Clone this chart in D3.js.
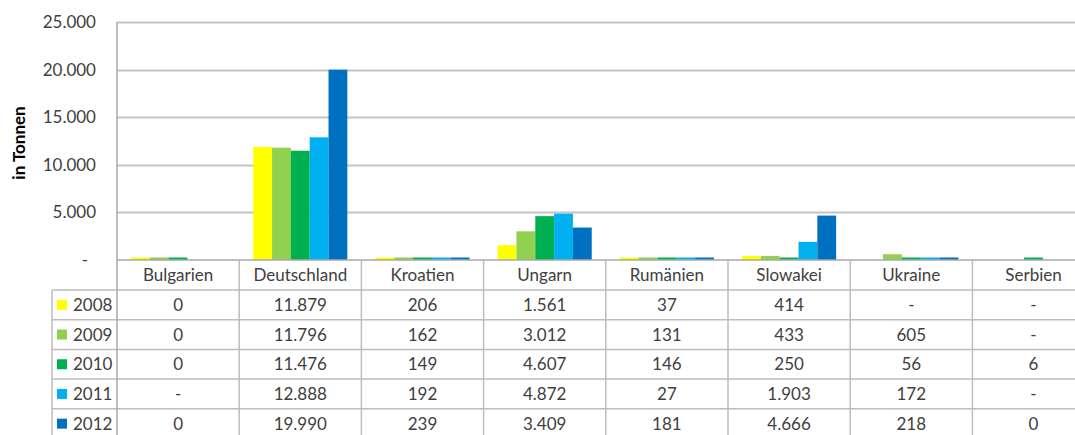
<!DOCTYPE html>
<html>
<head>
<meta charset="utf-8">
<script src="https://cdn.jsdelivr.net/npm/d3@7"></script>
<style>
  body { margin: 0; background: #fff; }
  text { font-family: Lato, "Open Sans", sans-serif; fill: #404040; }
</style>
</head>
<body>
<div class="chart"></div>
<script>
const categories = ['Bulgarien', 'Deutschland', 'Kroatien', 'Ungarn', 'Rumänien', 'Slowakei', 'Ukraine', 'Serbien'];
const years = ['2008', '2009', '2010', '2011', '2012'];
const colors = ['#ffff00', '#92d050', '#00b050', '#00b0f0', '#0070c0'];
// null = "-" in the table
const v2008 = [0.4, 11879, 206, 1561, 37, 414, null, null];
const v2009 = [0.4, 11796, 162, 3012, 131, 433, 605, null];
const v2010 = [0.4, 11476, 149, 4607, 146, 250, 56, 6];
const v2011 = [null, 12888, 192, 4872, 27, 1903, 172, null];
const v2012 = [0, 19990, 239, 3409, 181, 4666, 218, 0];
const yTicks = [0, 5000, 10000, 15000, 20000, 25000];

const series = [v2008, v2009, v2010, v2011, v2012];

const svg = d3.select('.chart').append('svg'),
  W = 1075, H = 435,
  margin = { top: 22, left: 117 },
  plotH = 260 - margin.top,
  rowH = 29.7,
  fs = '17px';

svg.attr('width', W).attr('height', H);

const de = d3.formatLocale({ decimal: ',', thousands: '.', grouping: [3], currency: ['', ' €'] });
const fmt = function(v) {
  if (v === null) return '-';
  return de.format(',.0f')(Math.round(v));
};

const x0 = d3.scaleBand().domain(categories).range([margin.left, margin.left + 8 * 122.2]);
const gap = x0.bandwidth() * 0.115;
const x1 = d3.scaleBand().domain(years).range([gap, x0.bandwidth() - gap]);
const y = d3.scaleLinear().domain([0, 25000]).range([margin.top + plotH, margin.top]);

// gridlines
svg.append('g').selectAll('line')
  .data(yTicks.slice(1))
  .enter().append('line')
  .attr('x1', margin.left).attr('x2', W)
  .attr('y1', d => Math.round(y(d)) + 0.5).attr('y2', d => Math.round(y(d)) + 0.5)
  .attr('stroke', '#c4c4c4').attr('stroke-width', 2);

// y tick labels
svg.append('g').selectAll('text')
  .data(yTicks)
  .enter().append('text')
  .attr('x', d => d === 0 ? 88 : 96)
  .attr('y', d => y(d) + 6)
  .attr('text-anchor', 'end')
  .style('font-size', fs)
  .text(d => d === 0 ? '-' : fmt(d));

svg.append('text')
  .attr('transform', 'translate(25,' + (margin.top + plotH / 2 + 2) + ') rotate(-90)')
  .attr('text-anchor', 'middle')
  .style('font-size', '17px').style('font-weight', 'bold').style('fill', '#000')
  .text('in Tonnen');

// bars
const groups = svg.append('g').selectAll('g')
  .data(categories)
  .enter().append('g')
  .attr('transform', d => 'translate(' + x0(d) + ',0)');

groups.selectAll('rect')
  .data((c, i) => years.map((yr, k) => ({ year: yr, k: k, v: series[k][i] })))
  .enter().append('rect')
  .attr('x', d => x1(d.year))
  .attr('width', x1.bandwidth())
  .attr('y', d => {
    const h = d.v > 0 ? Math.max(2.5, y(0) - y(d.v)) : 0;
    return y(0) - h;
  })
  .attr('height', d => d.v > 0 ? Math.max(2.5, y(0) - y(d.v)) : 0)
  .attr('fill', d => colors[d.k]);

// data table
const tableTop = y(0);
const gridColor = '#bdbdbd';
const t = svg.append('g');

// horizontal lines
t.append('line')
  .attr('x1', margin.left).attr('x2', W)
  .attr('y1', tableTop).attr('y2', tableTop)
  .attr('stroke', '#a8a8a8').attr('stroke-width', 1.5);
t.selectAll('.hl')
  .data(d3.range(1, 6))
  .enter().append('line')
  .attr('class', 'hl')
  .attr('x1', 52).attr('x2', W)
  .attr('y1', i => tableTop + 30 + (i - 1) * rowH)
  .attr('y2', i => tableTop + 30 + (i - 1) * rowH)
  .attr('stroke', gridColor).attr('stroke-width', 1.5);

// vertical lines
t.selectAll('.vl')
  .data(categories)
  .enter().append('line')
  .attr('class', 'vl')
  .attr('x1', d => x0(d) + x0.bandwidth()).attr('x2', d => x0(d) + x0.bandwidth())
  .attr('y1', tableTop).attr('y2', H)
  .attr('stroke', gridColor).attr('stroke-width', 1.5);
t.append('line')
  .attr('x1', margin.left).attr('x2', margin.left)
  .attr('y1', margin.top).attr('y2', H)
  .attr('stroke', '#a8a8a8').attr('stroke-width', 1.5);
t.append('line')
  .attr('x1', 52).attr('x2', 52)
  .attr('y1', tableTop + 30).attr('y2', H)
  .attr('stroke', gridColor).attr('stroke-width', 1.5);

// header labels
t.selectAll('.hd')
  .data(categories)
  .enter().append('text')
  .attr('class', 'hd')
  .attr('x', d => x0(d) + x0.bandwidth() / 2)
  .attr('y', tableTop + 21)
  .attr('text-anchor', 'middle')
  .style('font-size', fs)
  .text(d => d);

// rows
const rows = t.selectAll('.row')
  .data(years)
  .enter().append('g')
  .attr('class', 'row')
  .attr('transform', (d, k) => 'translate(0,' + (tableTop + 30 + k * rowH) + ')');

rows.append('rect')
  .attr('x', 57).attr('y', rowH / 2 - 5)
  .attr('width', 10).attr('height', 10)
  .attr('fill', (d, k) => colors[k]);

rows.append('text')
  .attr('x', 73).attr('y', rowH / 2 + 6)
  .style('font-size', fs)
  .text(d => d);

rows.selectAll('.val')
  .data((d, k) => categories.map((c, i) => ({ c: c, v: series[k][i] })))
  .enter().append('text')
  .attr('class', 'val')
  .attr('x', d => x0(d.c) + x0.bandwidth() / 2)
  .attr('y', rowH / 2 + 6)
  .attr('text-anchor', 'middle')
  .style('font-size', fs)
  .text(d => fmt(d.v));
</script>
</body>
</html>
